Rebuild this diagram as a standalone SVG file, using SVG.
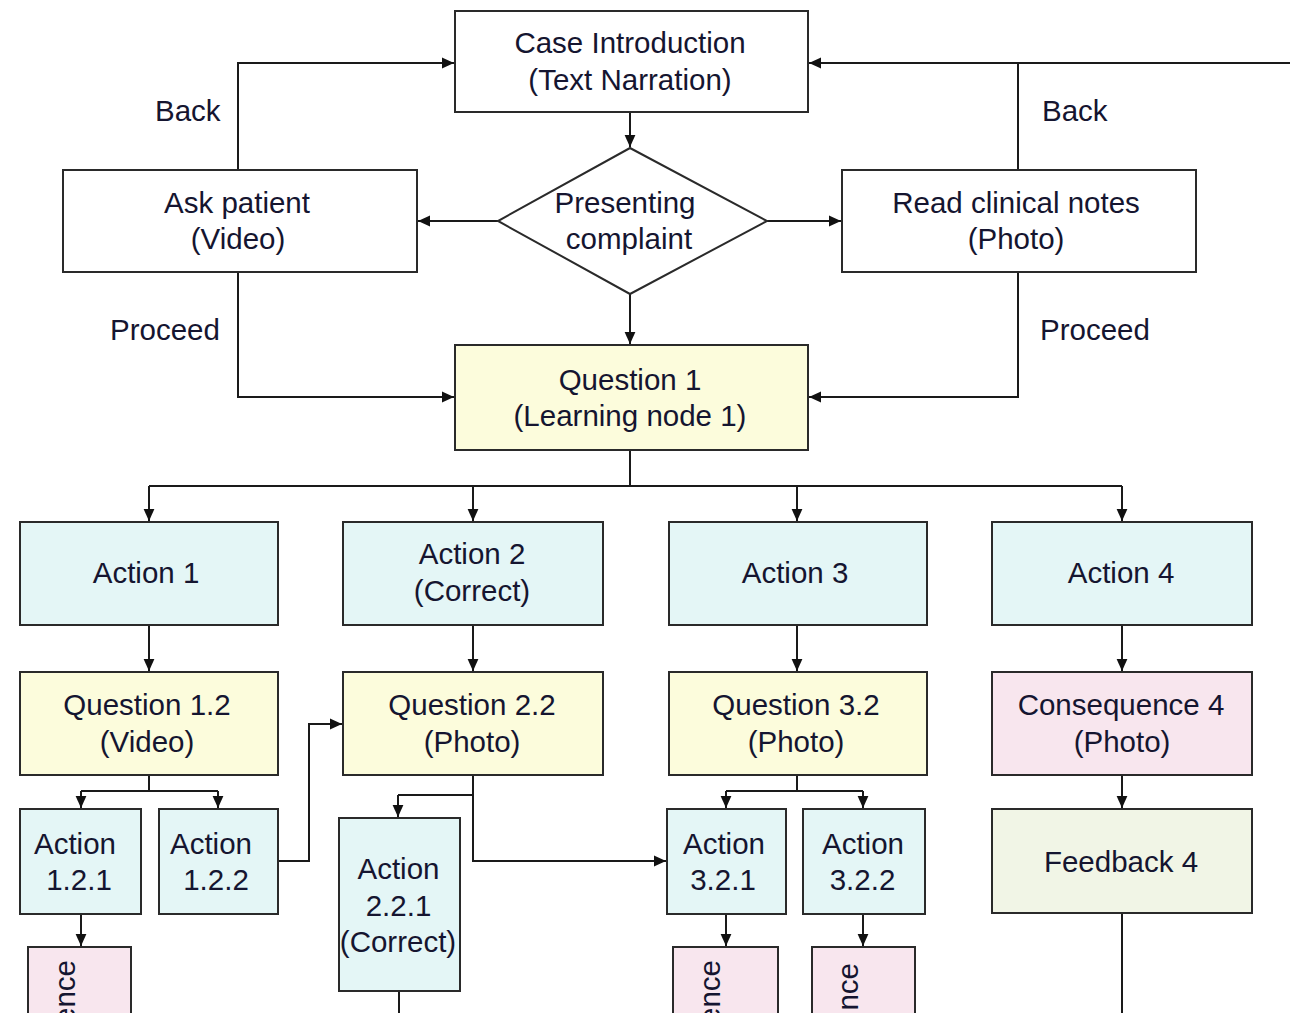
<svg xmlns="http://www.w3.org/2000/svg" width="1299" height="1013" viewBox="0 0 1299 1013">
<defs>
<marker id="ah" markerUnits="userSpaceOnUse" markerWidth="12" markerHeight="12" viewBox="0 0 10 10" refX="10" refY="5" orient="auto">
<path d="M0,0.5 L10,5 L0,9.5 z" fill="#111"/>
</marker>
<style>
.b{stroke:#2a2a2a;stroke-width:2}
.w{fill:#ffffff}
.y{fill:#fcfcdc}
.c{fill:#e4f6f6}
.p{fill:#f8e6ee}
.g{fill:#f1f5e6}
text{font-family:"Liberation Sans",Arial,sans-serif;font-size:29.5px;fill:#151530;text-anchor:middle}
.l{text-anchor:start}
.con path{fill:none;stroke:#1a1a1a;stroke-width:2}
.con .a{marker-end:url(#ah)}
</style>
</defs>
<rect width="1299" height="1013" fill="#ffffff"/>

<g class="con">
<path class="a" d="M630,112 V147"/>
<path class="a" d="M498,221 H418"/>
<path class="a" d="M767,221 H841"/>
<path class="a" d="M630,294 V344"/>
<path class="a" d="M238,170 V63 H454"/>
<path class="a" d="M1018,170 V63 H809"/>
<path d="M1018,63 H1290"/>
<path class="a" d="M238,272 V397 H454"/>
<path class="a" d="M1018,272 V397 H809"/>
<path d="M630,450 V486 M149,486 H1122"/>
<path class="a" d="M149,486 V521"/>
<path class="a" d="M473,486 V521"/>
<path class="a" d="M797,486 V521"/>
<path class="a" d="M1122,486 V521"/>
<path class="a" d="M149,625 V671"/>
<path class="a" d="M473,625 V671"/>
<path class="a" d="M797,625 V671"/>
<path class="a" d="M1122,625 V671"/>
<path d="M149,775 V791 M81,791 H218"/>
<path class="a" d="M81,791 V808"/>
<path class="a" d="M218,791 V808"/>
<path class="a" d="M81,914 V946"/>
<path class="a" d="M278,861 H309 V724 H342"/>
<path d="M473,775 V795 H398"/>
<path class="a" d="M398,795 V817"/>
<path class="a" d="M473,795 V861 H666"/>
<path d="M399,991 V1013"/>
<path d="M797,775 V791 M726,791 H863"/>
<path class="a" d="M726,791 V808"/>
<path class="a" d="M863,791 V808"/>
<path class="a" d="M726,914 V946"/>
<path class="a" d="M863,914 V946"/>
<path class="a" d="M1122,775 V808"/>
<path d="M1122,913 V1013"/>
</g>

<g id="labels">
<text class="l" x="155" y="121">Back</text>
<text class="l" x="1042" y="121">Back</text>
<text class="l" x="110" y="340">Proceed</text>
<text class="l" x="1040" y="340">Proceed</text>
</g>

<g id="case-intro"><rect class="b w" x="455" y="11" width="353" height="101"/>
<text x="630" y="53">Case Introduction</text><text x="630" y="90">(Text Narration)</text></g>

<g id="presenting"><path class="b w" d="M630,148 L767,221 L630,294 L498,221 Z"/>
<text x="625" y="213">Presenting</text><text x="629" y="249">complaint</text></g>

<g id="ask-patient"><rect class="b w" x="63" y="170" width="354" height="102"/>
<text x="237" y="213">Ask patient</text><text x="238" y="249">(Video)</text></g>

<g id="read-notes"><rect class="b w" x="842" y="170" width="354" height="102"/>
<text x="1016" y="213">Read clinical notes</text><text x="1016" y="249">(Photo)</text></g>

<g id="question1"><rect class="b y" x="455" y="345" width="353" height="105"/>
<text x="630" y="390">Question 1</text><text x="630" y="426">(Learning node 1)</text></g>

<g id="action1"><rect class="b c" x="20" y="522" width="258" height="103"/>
<text x="146" y="583">Action 1</text></g>

<g id="action2"><rect class="b c" x="343" y="522" width="260" height="103"/>
<text x="472" y="564">Action 2</text><text x="472" y="601">(Correct)</text></g>

<g id="action3"><rect class="b c" x="669" y="522" width="258" height="103"/>
<text x="795" y="583">Action 3</text></g>

<g id="action4"><rect class="b c" x="992" y="522" width="260" height="103"/>
<text x="1121" y="583">Action 4</text></g>

<g id="question1-2"><rect class="b y" x="20" y="672" width="258" height="103"/>
<text x="147" y="715">Question 1.2</text><text x="147" y="752">(Video)</text></g>

<g id="question2-2"><rect class="b y" x="343" y="672" width="260" height="103"/>
<text x="472" y="715">Question 2.2</text><text x="472" y="752">(Photo)</text></g>

<g id="question3-2"><rect class="b y" x="669" y="672" width="258" height="103"/>
<text x="796" y="715">Question 3.2</text><text x="796" y="752">(Photo)</text></g>

<g id="consequence4"><rect class="b p" x="992" y="672" width="260" height="103"/>
<text x="1121" y="715">Consequence 4</text><text x="1122" y="752">(Photo)</text></g>

<g id="feedback4"><rect class="b g" x="992" y="809" width="260" height="104"/>
<text x="1121" y="872">Feedback 4</text></g>

<g id="action1-2-1"><rect class="b c" x="20" y="809" width="121" height="105"/>
<text x="75" y="854">Action</text><text x="79" y="890">1.2.1</text></g>

<g id="action1-2-2"><rect class="b c" x="159" y="809" width="119" height="105"/>
<text x="211" y="854">Action</text><text x="216" y="890">1.2.2</text></g>

<g id="action2-2-1"><rect class="b c" x="339" y="818" width="121" height="173"/>
<text x="398.5" y="879">Action</text><text x="398.5" y="916">2.2.1</text><text x="398" y="952">(Correct)</text></g>

<g id="action3-2-1"><rect class="b c" x="667" y="809" width="119" height="105"/>
<text x="724" y="854">Action</text><text x="723" y="890">3.2.1</text></g>

<g id="action3-2-2"><rect class="b c" x="803" y="809" width="122" height="105"/>
<text x="863" y="854">Action</text><text x="862.5" y="890">3.2.2</text></g>

<g id="consequence-a"><rect class="b p" x="28" y="947" width="103" height="80"/>
<text transform="translate(74.5,960) rotate(-90)" style="text-anchor:end">ence</text></g>

<g id="consequence-b"><rect class="b p" x="673" y="947" width="105" height="80"/>
<text transform="translate(719.5,960) rotate(-90)" style="text-anchor:end">ence</text></g>

<g id="consequence-c"><rect class="b p" x="812" y="947" width="103" height="80"/>
<text transform="translate(858,963) rotate(-90)" style="text-anchor:end">nce</text></g>
</svg>
